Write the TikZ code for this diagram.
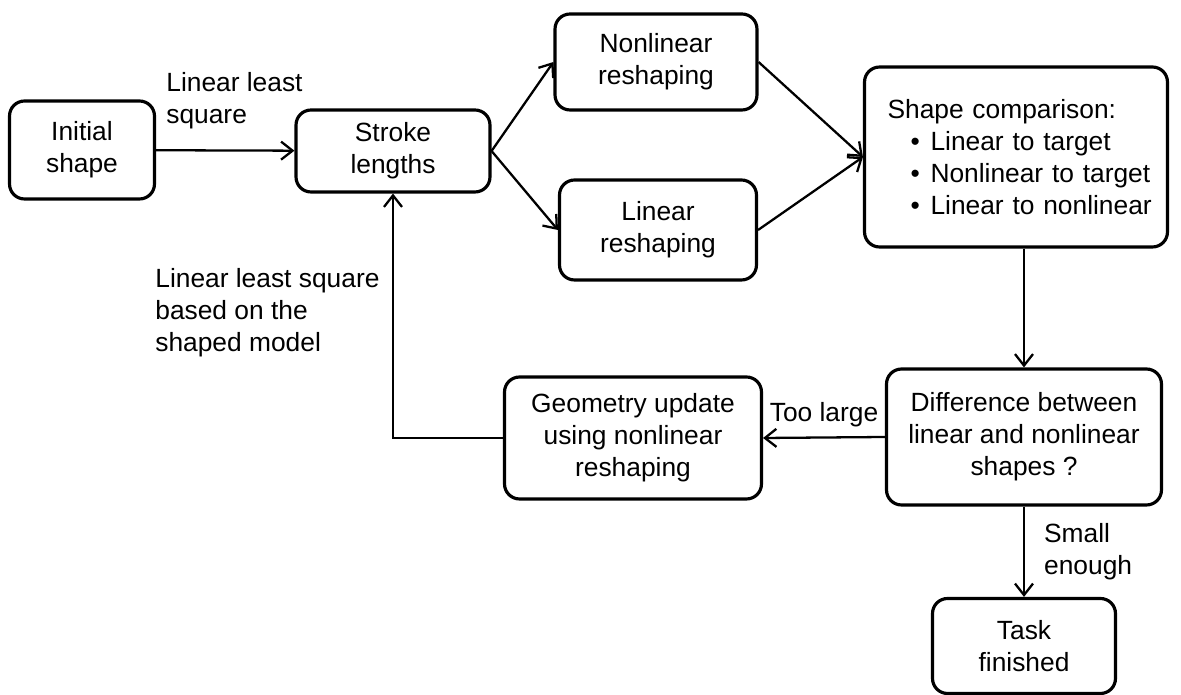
\documentclass[tikz,border=0pt]{standalone}
\usepackage{fontspec}
\setmainfont{Liberation Sans}
\usetikzlibrary{positioning,arrows.meta}
\newcommand{\cmpitem}[1]{\hspace*{0.64cm}\makebox[0.4cm][l]{\textbullet}#1}

\begin{document}
\begin{tikzpicture}[x=0.02cm,y=-0.02cm,
    font=\fontsize{15}{18.2}\selectfont,
    every node/.style={align=center},
    box/.style={draw,rounded corners=0.3cm,line width=1.8pt,inner sep=2pt},
    lbl/.style={align=left,inner sep=0pt},
    arr/.style={line width=1.3pt,-{Straight Barb[length=2.3mm,width=3.6mm]}}
  ]
  \useasboundingbox (0,0) rectangle (1181,695);

  % the boxes
  \node[box,minimum width=2.9cm,minimum height=1.96cm] (init) at (82,150) {Initial\\shape};
  \node[box,minimum width=3.88cm,minimum height=1.64cm] (stroke) at (393,151) {Stroke\\lengths};
  \node[box,minimum width=4.04cm,minimum height=1.92cm] (nonlin) at (656,62) {Nonlinear\\reshaping};
  \node[box,minimum width=3.94cm,minimum height=2cm] (lin) at (658,230) {Linear\\reshaping};
  \node[box,align=left,text width=5.5cm,inner xsep=0.28cm,minimum height=3.6cm] (comp) at (1016,157)
    {\hspace*{0.18cm}Shape comparison:\\\cmpitem{Linear to target}\\\cmpitem{Nonlinear to target}\\\cmpitem{Linear to nonlinear}};
  \node[box,minimum width=5.5cm,minimum height=2.72cm] (diff) at (1024,437) {Difference between\\linear and nonlinear\\shapes ?};
  \node[box,minimum width=5.14cm,minimum height=2.44cm] (geom) at (633,438) {Geometry update\\using nonlinear\\reshaping};
  \node[box,minimum width=3.66cm,minimum height=1.9cm] (task) at (1024,646) {Task\\finished};

  % the arrows
  \draw[arr] (init) -- (stroke);
  \draw[arr] (stroke.east) -- (nonlin.west);
  \draw[arr] (stroke.east) -- (lin.west);
  \draw[arr] (nonlin.east) -- (comp.west);
  \draw[arr] (lin.east) -- (comp.west);
  \draw[arr] (diff.north |- comp.south) -- (diff.north);
  \draw[arr] (diff.west) -- node[above=2pt] {Too large} (geom.east);
  \draw[arr] (geom.west) -| (stroke.south);
  \draw[arr] (diff.south) -- node[lbl,right=0.38cm] {Small\\enough} (task.north);

  % the labels
  \node[lbl,anchor=west] (lsq) at (166,101) {Linear least\\square};
  \node[lbl,anchor=west] (lsqmodel) at (155,313) {Linear least square\\based on the\\shaped model};
\end{tikzpicture}
\end{document}
